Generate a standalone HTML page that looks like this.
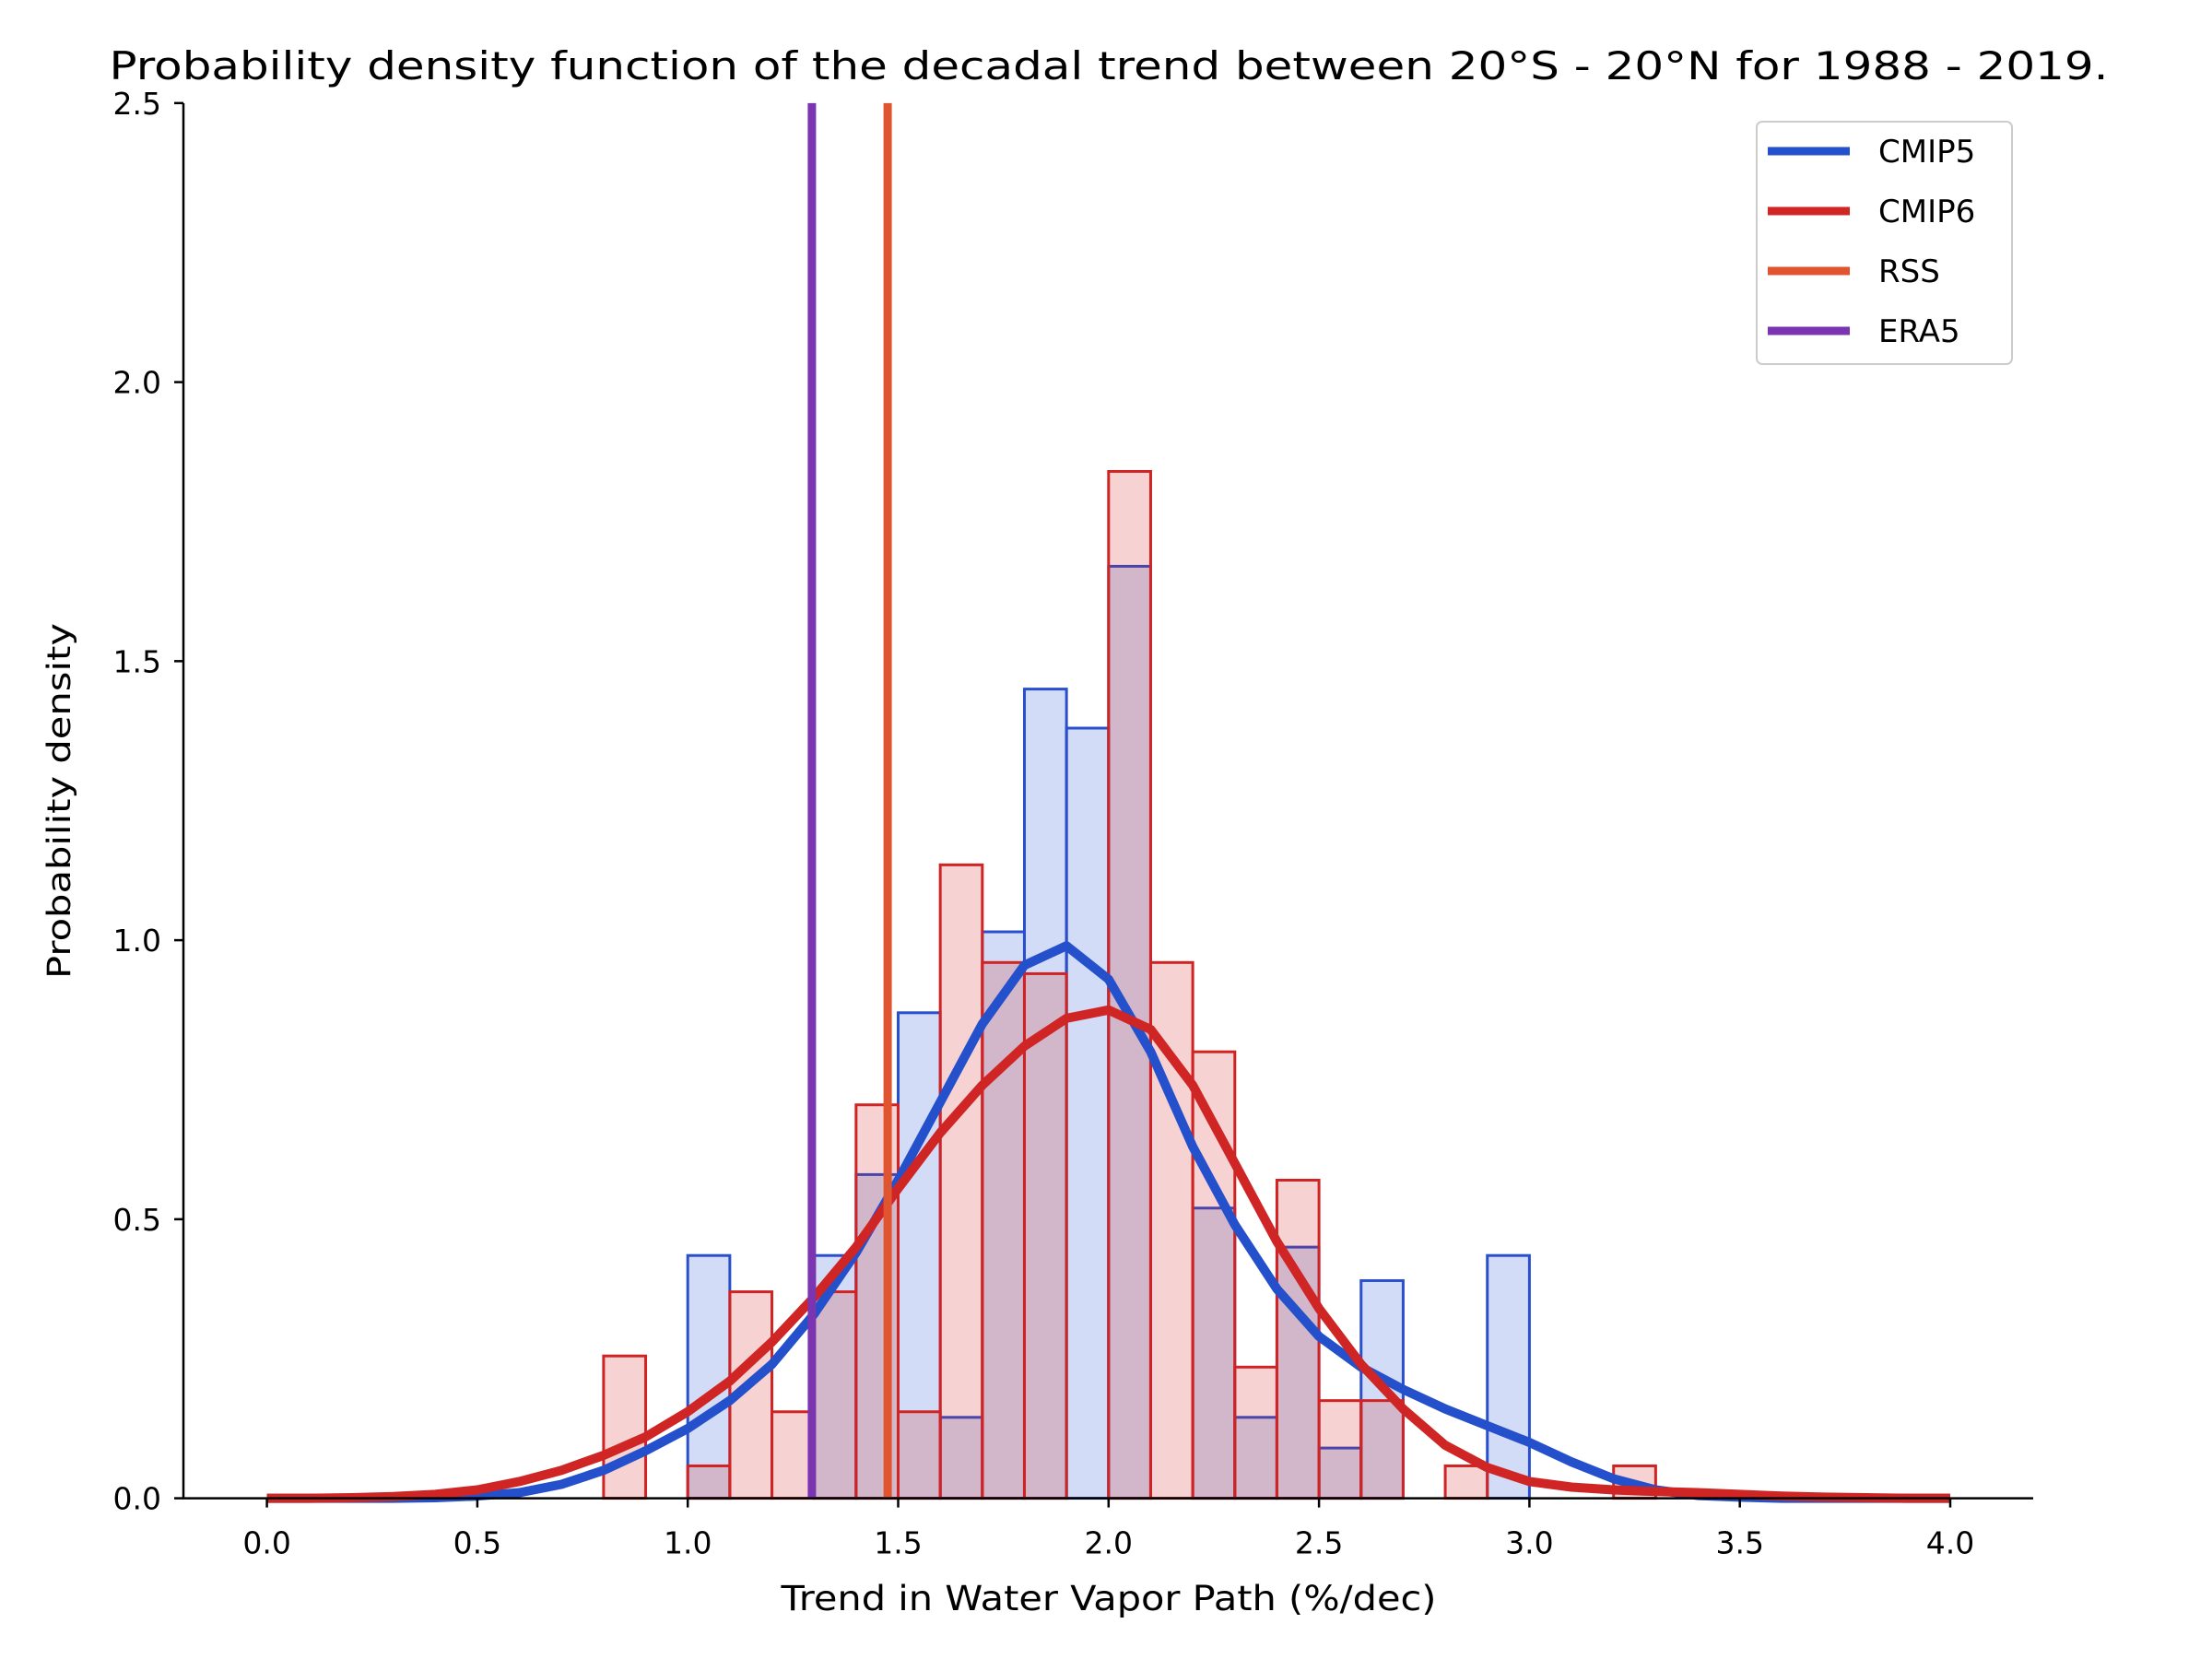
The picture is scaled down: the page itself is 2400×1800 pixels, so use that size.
<!DOCTYPE html>
<html><head><meta charset="utf-8"><style>
html,body{margin:0;padding:0;background:#fff}
svg{display:block;font-family:"DejaVu Sans","Liberation Sans",sans-serif}
</style></head><body>
<svg id="chart" width="2400" height="1800" viewBox="0 0 2400 1800"></svg>
<script>
const binStarts = [0.8,0.9,1.0,1.1,1.2,1.3,1.4,1.5,1.6,1.7,1.8,1.9,2.0,2.1,2.2,2.3,2.4,2.5,2.6,2.7,2.8,2.9,3.0,3.1,3.2];
const cmip5Hist = [0,0,0.435,0,0,0.435,0.58,0.87,0.145,1.015,1.45,1.38,1.67,0,0.52,0.145,0.45,0.09,0.39,0,0,0.435,0,0,0];
const cmip6Hist = [0.255,0,0.058,0.37,0.155,0.37,0.705,0.155,1.135,0.96,0.94,0,1.84,0.96,0.80,0.235,0.57,0.175,0.175,0,0.058,0,0,0,0.058];
const kdeX = [0,0.1,0.2,0.3,0.4,0.5,0.6,0.7,0.8,0.9,1.0,1.1,1.2,1.3,1.4,1.5,1.6,1.7,1.8,1.9,2.0,2.1,2.2,2.3,2.4,2.5,2.6,2.7,2.8,2.9,3.0,3.1,3.2,3.3,3.4,3.5,3.6,3.7,3.8,3.9,4.0];
const cmip5Kde = [0,0,0,0,0.001,0.004,0.01,0.025,0.05,0.085,0.125,0.175,0.24,0.33,0.44,0.57,0.71,0.85,0.955,0.99,0.93,0.8,0.63,0.49,0.375,0.29,0.235,0.195,0.16,0.13,0.1,0.065,0.035,0.015,0.005,0.002,0,0,0,0,0];
const cmip6Kde = [0,0,0.001,0.003,0.007,0.015,0.03,0.05,0.077,0.11,0.155,0.21,0.28,0.36,0.45,0.555,0.655,0.74,0.81,0.86,0.875,0.84,0.74,0.6,0.46,0.34,0.24,0.16,0.095,0.055,0.03,0.02,0.015,0.012,0.01,0.007,0.004,0.002,0.001,0,0];
const rssValue = 1.475;
const era5Value = 1.295;
const xTicks = [0,0.5,1.0,1.5,2.0,2.5,3.0,3.5,4.0];
const xTickLabels = ["0.0","0.5","1.0","1.5","2.0","2.5","3.0","3.5","4.0"];
const yTicks = [0,0.5,1.0,1.5,2.0,2.5];
const yTickLabels = ["0.0","0.5","1.0","1.5","2.0","2.5"];
const binWidth = 0.1;

const svg = document.getElementById('chart');
const NS = 'http://www.w3.org/2000/svg';
const X0 = 289.6, XU = 456.6, Y0 = 1625.6, YU = 605.5;
const AXL = 199, AXR = 2206;
function sx(v){return X0 + v*XU;}
function sy(v){return Y0 - v*YU;}
function mk(tag, attrs){const e=document.createElementNS(NS,tag);for(const k in attrs)e.setAttribute(k,attrs[k]);svg.appendChild(e);return e;}

function drawHist(vals, fill, stroke, nm){
  vals.forEach((v,i)=>{
    if(v<=0) return;
    const x=sx(binStarts[i]), w=sx(binStarts[i]+binWidth)-x;
    const r=mk('rect',{x:x,y:sy(v),width:w,height:sy(0)-sy(v),fill:fill,'fill-opacity':0.2,stroke:stroke,'stroke-width':3});
    
    
  });
}
drawHist(cmip5Hist,'#2050d0','#2a4fcc','cmip5-hist');
drawHist(cmip6Hist,'#d02020','#d02424','cmip6-hist');

function drawLine(ys,color,nm){
  const p=kdeX.map((x,i)=>sx(x).toFixed(1)+','+sy(ys[i]).toFixed(1)).join(' ');
  const l=mk('polyline',{points:p,fill:'none',stroke:color,'stroke-width':10,'stroke-linejoin':'round'});
  
  
}
drawLine(cmip5Kde,'#2550cc','cmip5-kde-line');
drawLine(cmip6Kde,'#d02525','cmip6-kde-line');

const era=mk('line',{x1:sx(era5Value),x2:sx(era5Value),y1:sy(0),y2:sy(2.5),stroke:'#7b35b0','stroke-width':9});


const rss=mk('line',{x1:sx(rssValue),x2:sx(rssValue),y1:sy(0),y2:sy(2.5),stroke:'#e05530','stroke-width':9});



const ya=mk('line',{x1:AXL,x2:AXL,y1:sy(2.5),y2:Y0,stroke:'#000','stroke-width':2.5});


const xa=mk('line',{x1:AXL-1.2,x2:AXR,y1:Y0,y2:Y0,stroke:'#000','stroke-width':2.5});


xTicks.forEach((v,i)=>{
  mk('line',{x1:sx(v),x2:sx(v),y1:Y0,y2:Y0+10,stroke:'#000','stroke-width':2.5});
  const t=mk('text',{x:sx(v),y:Y0+60,'font-size':33,'text-anchor':'middle',fill:'#000'});
  t.textContent=xTickLabels[i];
  
  
});
yTicks.forEach((v,i)=>{
  mk('line',{x1:AXL-10,x2:AXL,y1:sy(v),y2:sy(v),stroke:'#000','stroke-width':2.5});
  const t=mk('text',{x:AXL-24,y:sy(v)+12,'font-size':33,'text-anchor':'end',fill:'#000'});
  t.textContent=yTickLabels[i];
  
  
});

const lg=mk('rect',{x:1906,y:132,width:277,height:263,rx:6,fill:'#fff','fill-opacity':0.8,stroke:'#ccc','stroke-width':2});


const legNames=['CMIP5','CMIP6','RSS','ERA5'];
const legColors=['#2550cc','#d02525','#e05530','#7b35b0'];
legNames.forEach((n,i)=>{
  const y=164+i*65;
  const l=mk('line',{x1:1918,x2:2007,y1:y,y2:y,stroke:legColors[i],'stroke-width':9});
  
  
  const t=mk('text',{x:2038,y:y+12,'font-size':34,fill:'#000'});
  t.textContent=n;
  
  
});

const tt=mk('text',{x:1203,y:86,'font-size':42,'text-anchor':'middle',fill:'#000',textLength:2169,lengthAdjust:'spacingAndGlyphs'});
tt.textContent='Probability density function of the decadal trend between 20°S - 20°N for 1988 - 2019.';


const xl=mk('text',{x:1203,y:1747,'font-size':37,'text-anchor':'middle',fill:'#000',textLength:711,lengthAdjust:'spacingAndGlyphs'});
xl.textContent='Trend in Water Vapor Path (%/dec)';


const yl=mk('text',{x:0,y:0,'font-size':35,'text-anchor':'middle',fill:'#000',textLength:386,lengthAdjust:'spacingAndGlyphs',transform:'translate(76,869) rotate(-90)'});
yl.textContent='Probability density';


</script>
</body></html>
